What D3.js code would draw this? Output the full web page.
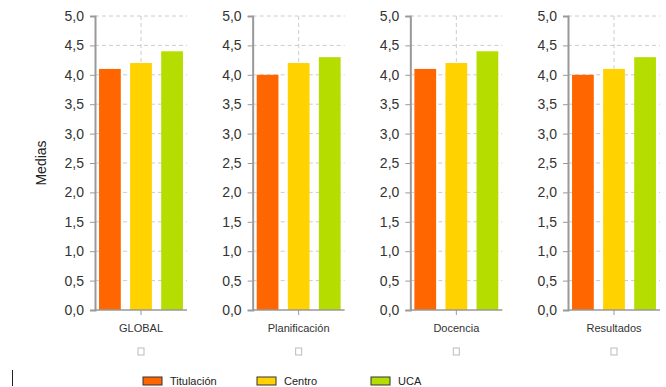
<!DOCTYPE html>
<html>
<head>
<meta charset="utf-8">
<script src="https://cdn.jsdelivr.net/npm/d3@7"></script>
<style>
  body { margin: 0; background: #fff; }
  svg { display: block; font-family: Arial, "Liberation Sans", sans-serif; }
</style>
</head>
<body>
<svg id="chart" width="666" height="387"></svg>
<script>
const categories = ['GLOBAL', 'Planificación', 'Docencia', 'Resultados'];
const seriesNames = ['Titulación', 'Centro', 'UCA'];
const titulacion = [4.1, 4.0, 4.1, 4.0];
const centro = [4.2, 4.2, 4.2, 4.1];
const uca = [4.4, 4.3, 4.4, 4.3];
const yTicks = [0, 0.5, 1, 1.5, 2, 2.5, 3, 3.5, 4, 4.5, 5];
const colors = ['#ff6600', '#ffd200', '#b5de00'];

const series = [titulacion, centro, uca];
const svg = d3.select('#chart');

const plotTop = 16, plotBottom = 310;
const panelW = 92;
const panelX = d3.scalePoint().domain(categories).range([95, 568]);

const y = d3.scaleLinear().domain([0, 5]).range([plotBottom, plotTop]);
const fmt = (d) => d3.format('.1f')(d).replace('.', ',');

categories.forEach((cat, ci) => {
  const g = svg.append('g').attr('transform', `translate(${panelX(cat)},0)`);

  const x = d3.scaleBand().domain(seriesNames).range([0, panelW]).paddingInner(0.3).paddingOuter(0.13);

  // grid
  g.selectAll('line.hgrid')
    .data(yTicks.filter((d) => d > 0))
    .join('line')
    .attr('x1', 0).attr('x2', panelW)
    .attr('y1', (d) => y(d)).attr('y2', (d) => y(d))
    .attr('stroke', '#ccc').attr('stroke-dasharray', '4,3');
  g.append('line')
    .attr('x1', panelW / 2).attr('x2', panelW / 2)
    .attr('y1', plotTop).attr('y2', plotBottom)
    .attr('stroke', '#ccc').attr('stroke-dasharray', '4,3');

  // bars
  g.selectAll('rect.bar')
    .data(series.map((s, i) => ({ name: seriesNames[i], v: s[ci], c: colors[i] })))
    .join('rect')
    .attr('x', (d) => x(d.name))
    .attr('width', x.bandwidth())
    .attr('y', (d) => y(d.v))
    .attr('height', (d) => y(0) - y(d.v))
    .attr('fill', (d) => d.c);

  // y axis
  const yAxis = g.append('g').call(d3.axisLeft(y).tickValues(yTicks).tickFormat(fmt).tickSize(5).tickSizeOuter(5));
  yAxis.select('.domain').attr('stroke', '#999').attr('stroke-width', 2);
  yAxis.selectAll('.tick line').attr('stroke', '#999');
  yAxis.selectAll('.tick text').attr('fill', '#333').attr('font-size', 14).attr('x', -11)
    .attr('font-family', 'Arial, "Liberation Sans", sans-serif');

  // x baseline + centre tick
  g.append('line').attr('x1', 0).attr('x2', panelW).attr('y1', plotBottom).attr('y2', plotBottom)
    .attr('stroke', '#999').attr('stroke-width', 1.5);
  g.append('line').attr('x1', panelW / 2).attr('x2', panelW / 2).attr('y1', plotBottom).attr('y2', plotBottom + 5)
    .attr('stroke', '#999');

  g.append('text')
    .attr('x', panelW / 2).attr('y', plotBottom + 22)
    .attr('text-anchor', 'middle')
    .attr('font-size', 11).attr('fill', '#333')
    .text(cat);

  g.append('rect')
    .attr('x', panelW / 2 - 3).attr('y', 348).attr('width', 6).attr('height', 7)
    .attr('fill', 'none').attr('stroke', '#bbb');
});

svg.append('text')
  .attr('transform', 'translate(46,163) rotate(-90)')
  .attr('text-anchor', 'middle')
  .attr('font-size', 14).attr('fill', '#222')
  .text('Medias');

// legend
const legendX = d3.scalePoint().domain(seriesNames).range([143, 371]);
const lg = svg.selectAll('g.legend').data(seriesNames).join('g')
  .attr('transform', (d) => `translate(${legendX(d)},377)`);
lg.append('rect').attr('width', 19).attr('height', 8)
  .attr('fill', (d, i) => colors[i]).attr('stroke', '#333').attr('stroke-width', 1);
lg.append('text').attr('x', 27).attr('y', 7.5)
  .attr('font-size', 11).attr('fill', '#222')
  .text((d) => d);

// cursor bar
svg.append('line').attr('x1', 12.5).attr('x2', 12.5).attr('y1', 370).attr('y2', 386)
  .attr('stroke', '#222').attr('stroke-width', 1);
</script>
</body>
</html>
